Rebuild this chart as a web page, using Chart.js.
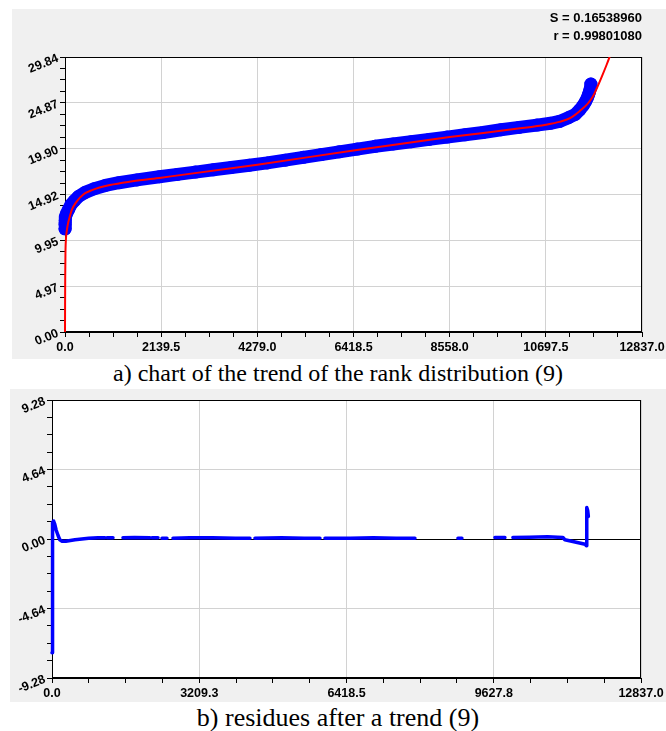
<!DOCTYPE html>
<html>
<head>
<meta charset="utf-8">
<script src="https://cdn.jsdelivr.net/npm/chart.js@4/dist/chart.umd.min.js"></script>
<style>
  html, body { margin: 0; padding: 0; background: #fff; }
  body { width: 666px; height: 731px; position: relative; overflow: hidden; font-family: "Liberation Sans", Arial, sans-serif; }
  .panel { position: absolute; background: #f0f0f0; }
  .cap { position: absolute; left: 0; width: 676px; text-align: center; font-family: "Liberation Serif", "Times New Roman", serif; line-height: 26px; color: #000; white-space: nowrap; }
  .stat { position: absolute; right: 24px; font: bold 13px "Liberation Sans", Arial, sans-serif; color: #000; line-height: 14px; text-align: right; }
  canvas { position: absolute; left: 0; top: 0; }
</style>
</head>
<body>
<div class="panel" id="pa" style="left:12px; top:9px; width:654px; height:350px;">
  <canvas id="ca" width="654" height="350"></canvas>
</div>
<div class="stat" style="top:11px;">S = 0.16538960</div>
<div class="stat" style="top:29px;">r = 0.99801080</div>
<div class="cap" style="top:360px; font-size:24px;">a) chart of the trend of the rank distribution (9)</div>
<div class="panel" id="pb" style="left:10px; top:389px; width:656px; height:313px;">
  <canvas id="cb" width="656" height="313"></canvas>
</div>
<div class="cap" style="top:705px; font-size:26px;">b) residues after a trend (9)</div>
<script>
// ---------- tick labels ----------
const yLabelsA = ['0.00', '4.97', '9.95', '14.92', '19.90', '24.87', '29.84'];
const xLabelsA = ['0.0', '2139.5', '4279.0', '6418.5', '8558.0', '10697.5', '12837.0'];
const yLabelsB = ['-9.28', '-4.64', '0.00', '4.64', '9.28'];
const xLabelsB = ['0.0', '3209.3', '6418.5', '9627.8', '12837.0'];

// ---------- chart a: ranked observations (blue) ----------
const rankX = [0, 0, 5, 15, 40, 80, 130, 200, 300, 450, 650, 900, 1200, 1600, 2100, 2500, 2900, 3300, 3700, 4100,
  4500, 4900, 5300, 5700, 6100, 6500, 6900, 7300, 7700, 8100, 8500, 8900, 9300, 9700, 10100, 10500, 10800, 11000,
  11200, 11350, 11450, 11530, 11580, 11620, 11650, 11670, 11690, 11700];
const rankY = [11.2, 11.7, 12.1, 12.5, 12.9, 13.3, 13.8, 14.2, 14.7, 15.15, 15.55, 15.9, 16.2, 16.5, 16.85, 17.1, 17.35, 17.6, 17.85, 18.1,
  18.35, 18.65, 18.95, 19.25, 19.55, 19.85, 20.15, 20.4, 20.65, 20.9, 21.15, 21.4, 21.65, 21.95, 22.2, 22.45, 22.65, 22.85,
  23.25, 23.6, 24.1, 24.6, 25.0, 25.4, 25.8, 26.1, 26.5, 26.9];

// ---------- chart a: trend (red) ----------
const trendX = [0, 2, 5, 10, 20, 35, 60, 100, 156, 250, 400, 600, 1000, 1500, 2139.5, 4279, 6418.5, 8558, 10124, 10697.5,
  11000, 11236, 11458, 11636, 11750, 11836, 11950, 12050, 12150];
const trendY = [0, 3.0, 6.0, 8.5, 10.0, 10.8, 11.6, 12.4, 13.3, 14.1, 14.9, 15.4, 15.95, 16.35, 16.75, 18.15, 19.7, 21.15, 22.1, 22.5,
  22.8, 23.2, 24.0, 24.8, 25.6, 26.5, 27.8, 29.0, 30.3];

// ---------- chart b: residues (null = no visible mark) ----------
const resX = [0, 4, 8, 12, 16, 20, 35, 60, 90, 130, 170, 220, 300, 400, 500, 650, 800, 1000, 1155, 1160, 1198, 1329, 1330,
  1547, 1800, 2135, 2140, 2179, 2310, 2315, 2397, 2506, 2510, 2637, 3000, 3500, 4000, 4314, 4320, 4423, 5000, 5500,
  5840, 5845, 5949, 6500, 7000, 7500, 7910, 7915, 8847, 8934, 8940, 9653, 9871, 9875, 10045, 10400, 10800, 11135,
  11178, 11400, 11620, 11645, 11655, 11675, 11690];
const resY = [-7.6, -6.0, -4.0, -2.0, 0.0, 1.1, 1.2, 1.0, 0.6, 0.25, -0.05, -0.15, -0.15, -0.1, -0.05, 0.0, 0.05, 0.08, 0.08, null, 0.08, 0.08, null,
  0.08, 0.1, 0.08, null, 0.08, 0.08, null, 0.05, 0.05, null, 0.05, 0.08, 0.08, 0.05, 0.05, null, 0.05, 0.08, 0.05,
  0.05, null, 0.05, 0.05, 0.08, 0.05, 0.05, null, 0.05, 0.05, null, 0.1, 0.1, null, 0.1, 0.12, 0.15, 0.1,
  -0.05, -0.2, -0.35, -0.45, 2.1, 1.9, 1.5];

const MINOR = 4;
const LABEL_SLANT_DEG = 22;
const pts = (xs, ys) => xs.map((x, i) => ({ x: x, y: ys[i] }));

function buildTicks(labels) {
  const v = labels.map(Number);
  return function (scale) {
    const out = [];
    for (let i = 0; i < v.length - 1; i++) {
      for (let k = 0; k < MINOR; k++) out.push({ value: v[i] + (v[i + 1] - v[i]) * k / MINOR });
    }
    out.push({ value: v[v.length - 1] });
    scale.ticks = out;
  };
}
const labelCb = (labels) => (val, i) => (i % MINOR === 0 ? labels[i / MINOR] : '');

Chart.defaults.font.family = '"Liberation Sans", Arial, sans-serif';
Chart.defaults.animation = false;

const TICK_FONT = 'bold 12.5px "Liberation Sans", Arial, sans-serif';

const areaPlugin = {
  id: 'area',
  beforeDraw(chart) {
    const { ctx, chartArea: a } = chart;
    ctx.save();
    ctx.fillStyle = '#ffffff';
    ctx.fillRect(a.left, a.top, a.right - a.left, a.bottom - a.top);
    ctx.restore();
  },
  beforeDatasetsDraw(chart) {
    const { ctx, chartArea: a } = chart;
    ctx.save();
    ctx.strokeStyle = '#000';
    ctx.lineWidth = 1;
    const l = Math.round(a.left) + 0.5, t = Math.round(a.top) + 0.5;
    const r = Math.round(a.right) - 0.5, b = Math.round(a.bottom) - 0.5;
    ctx.strokeRect(l, t, r - l, b - t);
    ctx.restore();
  },
  // slanted value labels of the vertical axis
  afterDraw(chart) {
    const s = chart.scales.y;
    const labels = s.options.slantLabels || [];
    const ctx = chart.ctx;
    ctx.save();
    ctx.font = TICK_FONT;
    ctx.fillStyle = '#000';
    ctx.textAlign = 'right';
    ctx.textBaseline = 'middle';
    labels.forEach((l) => {
      const y = s.getPixelForValue(Number(l));
      ctx.save();
      ctx.translate(s.right - 7, y + 1);
      ctx.rotate(-LABEL_SLANT_DEG * Math.PI / 180);
      ctx.fillText(l, 0, 0);
      ctx.restore();
    });
    ctx.restore();
  }
};

const tickFont = { size: 12.5, weight: 'bold', family: '"Liberation Sans", Arial, sans-serif' };

function axisX(labels, h) {
  return {
    type: 'linear',
    min: Number(labels[0]),
    max: Number(labels[labels.length - 1]),
    afterBuildTicks: buildTicks(labels),
    afterFit(s) { s.height = h; s.paddingLeft = 0; s.paddingRight = 0; },
    border: { display: true, color: '#000', width: 1 },
    grid: {
      color: (c) => (c.index % MINOR === 0 ? '#d2d2d2' : 'rgba(0,0,0,0)'),
      tickColor: '#000',
      tickLength: 5,
      lineWidth: 1
    },
    ticks: {
      autoSkip: false, maxRotation: 0, minRotation: 0, padding: 3,
      color: '#000', font: tickFont,
      callback: labelCb(labels)
    }
  };
}
function axisY(labels, w, zeroBlack) {
  return {
    type: 'linear',
    min: Number(labels[0]),
    max: Number(labels[labels.length - 1]),
    slantLabels: labels,
    afterBuildTicks: buildTicks(labels),
    afterFit(s) { s.width = w; s.paddingTop = 0; s.paddingBottom = 0; },
    border: { display: true, color: '#000', width: 1 },
    grid: {
      color: (c) => {
        if (c.index % MINOR !== 0) return 'rgba(0,0,0,0)';
        if (zeroBlack && c.tick && Math.abs(c.tick.value) < 1e-9) return '#000';
        return '#d2d2d2';
      },
      tickColor: '#000',
      tickLength: 5,
      lineWidth: 1
    },
    ticks: {
      autoSkip: false, padding: 2,
      color: '#000', font: tickFont,
      callback: () => ''
    }
  };
}

new Chart(document.getElementById('ca'), {
  type: 'scatter',
  data: {
    datasets: [
      {
        label: 'trend',
        data: pts(trendX, trendY),
        showLine: true,
        borderColor: '#ff0000',
        borderWidth: 2,
        pointRadius: 0,
        cubicInterpolationMode: 'monotone',
        clip: { left: 3, top: 0, right: 0, bottom: 3 }
      },
      {
        label: 'ranked values',
        data: pts(rankX, rankY),
        showLine: true,
        borderColor: '#0000ff',
        backgroundColor: '#0000ff',
        borderWidth: 13,
        borderJoinStyle: 'round',
        borderCapStyle: 'round',
        pointRadius: 6.5,
        pointBorderWidth: 0,
        pointBackgroundColor: '#0000ff',
        clip: false
      }
    ]
  },
  options: {
    responsive: false,
    events: [],
    layout: { padding: { left: 0, top: 48, right: 24, bottom: 0 } },
    plugins: { legend: { display: false }, tooltip: { enabled: false } },
    scales: {
      x: axisX(xLabelsA, 27),
      y: axisY(yLabelsA, 53, false)
    }
  },
  plugins: [areaPlugin]
});

new Chart(document.getElementById('cb'), {
  type: 'scatter',
  data: {
    datasets: [
      {
        label: 'residues',
        data: pts(resX, resY),
        showLine: true,
        spanGaps: false,
        borderColor: '#0000ff',
        borderWidth: 3.5,
        borderJoinStyle: 'round',
        borderCapStyle: 'round',
        pointRadius: 0,
        clip: false
      }
    ]
  },
  options: {
    responsive: false,
    events: [],
    layout: { padding: { left: 0, top: 11, right: 25, bottom: 0 } },
    plugins: { legend: { display: false }, tooltip: { enabled: false } },
    scales: {
      x: axisX(xLabelsB, 24),
      y: axisY(yLabelsB, 42, true)
    }
  },
  plugins: [areaPlugin]
});
</script>
</body>
</html>
